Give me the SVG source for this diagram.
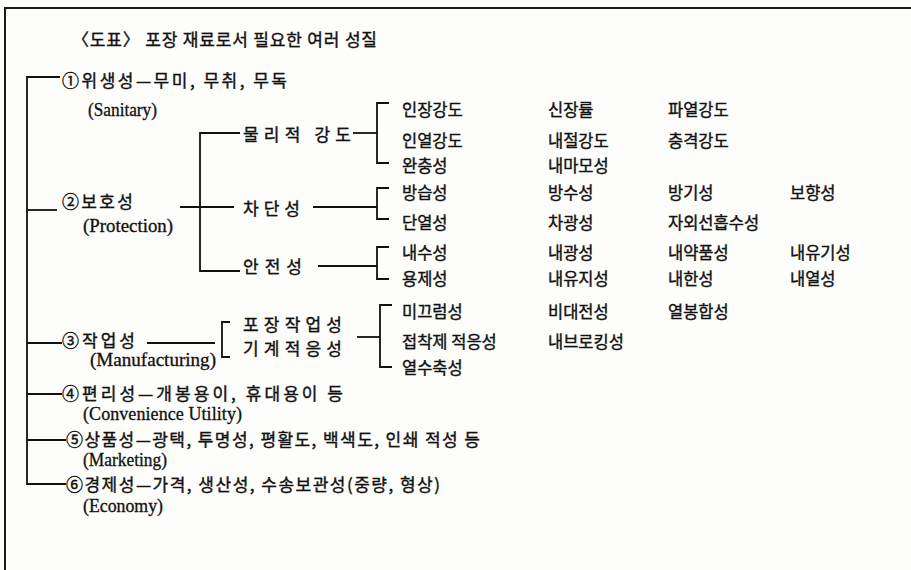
<svg xmlns="http://www.w3.org/2000/svg" width="911" height="570" viewBox="0 0 911 570">
<style>
.bg{fill:#fdfdfb}
.frame{fill:none;stroke:#1a1a1a;stroke-width:2}
.c{fill:none;stroke:#111;stroke-width:1.8}
.k{font-family:"Noto Sans CJK KR","Noto Sans",sans-serif;font-size:17px;fill:#111;stroke:#111;stroke-width:0.4}
.i{font-family:"Noto Sans CJK KR","Noto Sans",sans-serif;font-size:16.5px;fill:#111;stroke:#111;stroke-width:0.4}
.e{font-family:"Liberation Serif","DejaVu Serif",serif;font-size:18px;fill:#111;stroke:#111;stroke-width:0.3}
</style>
<rect class="bg" x="0" y="0" width="911" height="570"/>
<path class="frame" d="M5,570 V8 H911"/>
<text id="title" class="k" x="72" y="46" textLength="305" lengthAdjust="spacing">〈도표〉 포장 재료로서 필요한 여러 성질</text>

<g id="connectors">
<path class="c" d="M60,77 H27 V484 H66"/>
<path class="c" d="M27,210 H57"/>
<path class="c" d="M27,343 H62"/>
<path class="c" d="M27,394 H62"/>
<path class="c" d="M27,440 H66"/>
<path class="c" d="M180,207 H234"/>
<path class="c" d="M240,133 H200 V271 H240"/>
<path class="c" d="M353,133 H377"/>
<path class="c" d="M389,103 H377 V163 H389"/>
<path class="c" d="M313,207 H377"/>
<path class="c" d="M389,188 H377 V219 H389"/>
<path class="c" d="M318,266 H377"/>
<path class="c" d="M389,247 H377 V279 H389"/>
<path class="c" d="M147,343 H215"/>
<path class="c" d="M230,322 H222 V357 H230"/>
<path class="c" d="M357,337 H380"/>
<path class="c" d="M392,305 H380 V367 H392"/>
</g>

<g id="n1">
<text class="k" x="62" y="87" textLength="225" lengthAdjust="spacing">①위생성—무미, 무취, 무독</text>
<text class="e" x="88" y="116" textLength="69" lengthAdjust="spacingAndGlyphs">(Sanitary)</text>
</g>
<g id="n2">
<text class="k" x="62" y="208" textLength="71" lengthAdjust="spacing">②보호성</text>
<text class="e" x="83" y="232" textLength="90" lengthAdjust="spacingAndGlyphs">(Protection)</text>
</g>
<g id="n2a">
<text class="k" x="243" y="141" textLength="108" lengthAdjust="spacing">물리적 강도</text>
</g>
<g id="n2b">
<text class="k" x="243" y="215" textLength="57" lengthAdjust="spacing">차단성</text>
</g>
<g id="n2c">
<text class="k" x="243" y="273" textLength="59" lengthAdjust="spacing">안전성</text>
</g>
<g id="n3">
<text class="k" x="62" y="347" textLength="73" lengthAdjust="spacing">③작업성</text>
<text class="e" x="90" y="366" textLength="126" lengthAdjust="spacingAndGlyphs">(Manufacturing)</text>
</g>
<g id="n3a">
<text class="k" x="243" y="331" textLength="99" lengthAdjust="spacing">포장작업성</text>
<text class="k" x="243" y="355" textLength="99" lengthAdjust="spacing">기계적응성</text>
</g>
<g id="n4">
<text class="k" x="62" y="400" textLength="281" lengthAdjust="spacing">④편리성—개봉용이, 휴대용이 등</text>
<text class="e" x="83" y="420" textLength="159" lengthAdjust="spacing">(Convenience Utility)</text>
</g>
<g id="n5">
<text class="k" x="66" y="446" textLength="414" lengthAdjust="spacing">⑤상품성—광택, 투명성, 평활도, 백색도, 인쇄 적성 등</text>
<text class="e" x="83" y="466" textLength="84" lengthAdjust="spacingAndGlyphs">(Marketing)</text>
</g>
<g id="n6">
<text class="k" x="66" y="491" textLength="374" lengthAdjust="spacing">⑥경제성—가격, 생산성, 수송보관성(중량, 형상)</text>
<text class="e" x="83" y="512" textLength="80" lengthAdjust="spacingAndGlyphs">(Economy)</text>
</g>

<g id="strength">
<text class="i" x="402" y="116">인장강도</text><text class="i" x="548" y="116">신장률</text><text class="i" x="668" y="116">파열강도</text>
<text class="i" x="402" y="147">인열강도</text><text class="i" x="548" y="147">내절강도</text><text class="i" x="668" y="147">충격강도</text>
<text class="i" x="402" y="172">완충성</text><text class="i" x="548" y="172">내마모성</text>
</g>
<g id="barrier">
<text class="i" x="402" y="199">방습성</text><text class="i" x="548" y="199">방수성</text><text class="i" x="668" y="199">방기성</text><text class="i" x="790" y="199">보향성</text>
<text class="i" x="402" y="229">단열성</text><text class="i" x="548" y="229">차광성</text><text class="i" x="668" y="229">자외선흡수성</text>
</g>
<g id="safety">
<text class="i" x="402" y="259">내수성</text><text class="i" x="548" y="259">내광성</text><text class="i" x="668" y="259">내약품성</text><text class="i" x="790" y="259">내유기성</text>
<text class="i" x="402" y="285">용제성</text><text class="i" x="548" y="285">내유지성</text><text class="i" x="668" y="285">내한성</text><text class="i" x="790" y="285">내열성</text>
</g>
<g id="workability">
<text class="i" x="402" y="318">미끄럼성</text><text class="i" x="548" y="318">비대전성</text><text class="i" x="668" y="318">열봉합성</text>
<text class="i" x="402" y="348">접착제 적응성</text><text class="i" x="548" y="348">내브로킹성</text>
<text class="i" x="402" y="374">열수축성</text>
</g>
</svg>
